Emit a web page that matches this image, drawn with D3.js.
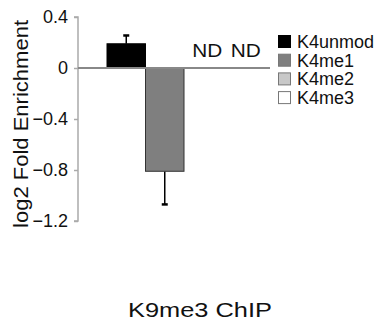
<!DOCTYPE html>
<html><head><meta charset="utf-8">
<script src="https://cdn.jsdelivr.net/npm/d3@7"></script>
<style>body{margin:0;background:#fff}svg{display:block}text{font-family:"Liberation Sans",Arial,sans-serif}</style>
</head><body>
<script>
const categories = ["K4unmod","K4me1","K4me2","K4me3"];
const values = [0.19, -0.81, null, null];
const errors = [0.065, 0.26, null, null];
const notDetected = ["ND","ND"];
const yTicks = [0.4, 0, -0.4, -0.8, -1.2];
const colors = ["#000000","#7f7f7f","#c8c8c8","#ffffff"];
const strokes = ["#000000","#333333","#777777","#777777"];

const W=380,H=328;
const svg=d3.select("body").append("svg").attr("width",W).attr("height",H);
const y=d3.scaleLinear().domain([-1.2,0.4]).range([221,17]);
const x=d3.scaleBand().domain(categories).range([107,261]).padding(0);

// axis
const axis=d3.axisLeft(y).tickValues(yTicks).tickSize(4).tickPadding(6)
  .tickFormat(d=>d===0?"0":d3.format(".1f")(d));
const gA=svg.append("g").attr("transform","translate(78,0)").call(axis);
gA.select(".domain").attr("stroke","#aaa").attr("stroke-width",1.5).attr("d",`M-4,${y(0.4)}H0V${y(-1.2)}H-4`);
gA.selectAll(".tick line").attr("stroke","#aaa").attr("stroke-width",1.5);
gA.selectAll(".tick text").attr("font-size",18).attr("fill","#111").style("font-family","'Liberation Sans',Arial,sans-serif");

categories.forEach((c,i)=>{
  if(values[i]==null) return;
  const cx=x(c)+x.bandwidth()/2;
  const v=values[i], e=errors[i];
  const end=v>=0?v+e:v-e;
  svg.append("line").attr("x1",cx).attr("x2",cx).attr("y1",y(v)).attr("y2",y(end)).attr("stroke","#000").attr("stroke-width",1.5);
  svg.append("line").attr("x1",cx-3).attr("x2",cx+3).attr("y1",y(end)).attr("y2",y(end)).attr("stroke","#000").attr("stroke-width",2.5);
});
svg.selectAll("rect.bar").data(categories.map((c,i)=>({c,v:values[i],i})).filter(d=>d.v!=null))
  .enter().append("rect").attr("class","bar")
  .attr("x",d=>x(d.c)).attr("width",x.bandwidth())
  .attr("y",d=>y(Math.max(0,d.v))).attr("height",d=>Math.abs(y(d.v)-y(0)))
  .attr("fill",d=>colors[d.i]).attr("stroke",d=>strokes[d.i]).attr("stroke-width",1);

// zero line
svg.append("line").attr("x1",78).attr("x2",270).attr("y1",y(0)).attr("y2",y(0)).attr("stroke","#888").attr("stroke-width",2);

// ND labels
categories.forEach((c,i)=>{
  if(values[i]!=null) return;
  svg.append("text").attr("x",x(c)+x.bandwidth()/2+4).attr("y",y(0)-11).attr("text-anchor","middle")
    .attr("font-size",18).attr("fill","#111").attr("textLength",30).attr("lengthAdjust","spacingAndGlyphs").text(notDetected[i-2]);
});

// y label
svg.append("text").attr("transform",`translate(28,124) rotate(-90)`).attr("text-anchor","middle")
  .attr("font-size",21).attr("fill","#111").attr("textLength",208).attr("lengthAdjust","spacingAndGlyphs").text("log2 Fold Enrichment");

// legend
const lg=svg.append("g").attr("transform","translate(278,41.5)");
categories.forEach((c,i)=>{
  const g=lg.append("g").attr("transform",`translate(0,${i*18.7})`);
  g.append("rect").attr("x",0.5).attr("y",-6).attr("width",12).attr("height",12).attr("fill",colors[i]).attr("stroke",i===0?"#000":"#777").attr("stroke-width",1);
  g.append("text").attr("x",19).attr("y",6.5).attr("font-size",18).attr("fill","#111").text(c);
});

// title
svg.append("text").attr("x",200).attr("y",317).attr("text-anchor","middle").attr("font-size",21).attr("fill","#111")
  .attr("textLength",144).attr("lengthAdjust","spacingAndGlyphs").text("K9me3 ChIP");
</script>
</body></html>
